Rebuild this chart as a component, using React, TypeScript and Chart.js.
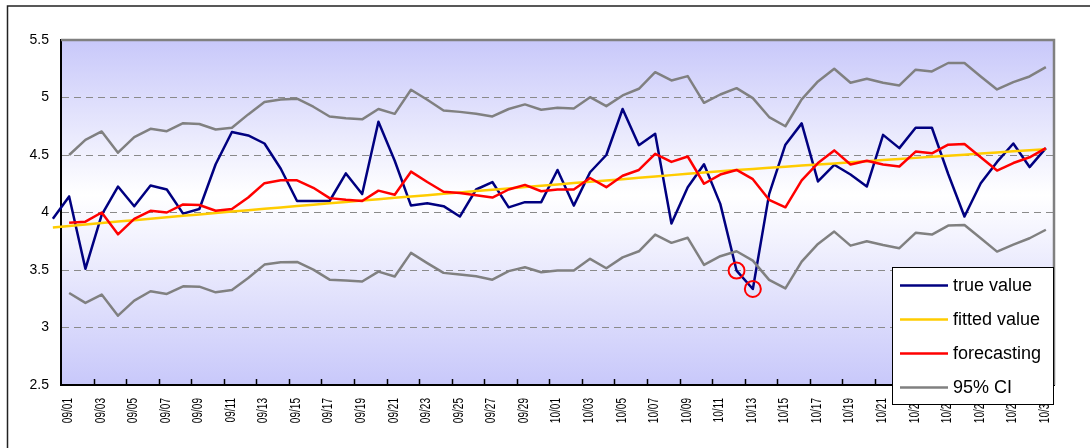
import React, { useEffect, useRef } from "react";
import { Chart, registerables } from "chart.js";

Chart.register(...registerables);

// Categories: one leading day (08/31) sits just outside the plot, as in the original
const categories = [
  "08/31",
  "09/01", "09/02", "09/03", "09/04", "09/05", "09/06", "09/07", "09/08", "09/09", "09/10",
  "09/11", "09/12", "09/13", "09/14", "09/15", "09/16", "09/17", "09/18", "09/19", "09/20",
  "09/21", "09/22", "09/23", "09/24", "09/25", "09/26", "09/27", "09/28", "09/29", "09/30",
  "10/01", "10/02", "10/03", "10/04", "10/05", "10/06", "10/07", "10/08", "10/09", "10/10",
  "10/11", "10/12", "10/13", "10/14", "10/15", "10/16", "10/17", "10/18", "10/19", "10/20",
  "10/21", "10/22", "10/23", "10/24", "10/25", "10/26", "10/27", "10/28", "10/29", "10/30",
  "10/31",
];

// Tick labels shown (every second day); the legend box hides the tops of the last few
const xTickLabels = [
  "09/01", "09/03", "09/05", "09/07", "09/09", "09/11", "09/13", "09/15", "09/17", "09/19",
  "09/21", "09/23", "09/25", "09/27", "09/29", "10/01", "10/03", "10/05", "10/07", "10/09",
  "10/11", "10/13", "10/15", "10/17", "10/19", "10/21", "10/23", "10/25", "10/27", "10/29", "10/31",
];

const trueValue = [
  3.945, 4.14, 3.51, 3.98, 4.226, 4.055, 4.235, 4.2, 3.99, 4.03, 4.42, 4.7, 4.67, 4.6, 4.38,
  4.1, 4.1, 4.1, 4.34, 4.16, 4.79, 4.45, 4.06, 4.08, 4.055, 3.965, 4.2, 4.265, 4.045, 4.09,
  4.09, 4.37, 4.06, 4.35, 4.5, 4.9, 4.585, 4.685, 3.905, 4.22, 4.42, 4.075, 3.495, 3.335,
  4.16, 4.59, 4.775, 4.27, 4.415, 4.33, 4.226, 4.675, 4.56, 4.737, 4.737, 4.335, 3.965,
  4.255, 4.44, 4.6, 4.395, 4.56,
];

const fittedValue = [
  3.87, 3.883, 3.896, 3.908, 3.921, 3.933, 3.946, 3.958, 3.971, 3.983, 3.995, 4.008, 4.02,
  4.032, 4.044, 4.056, 4.068, 4.08, 4.092, 4.104, 4.116, 4.128, 4.14, 4.151, 4.163, 4.174,
  4.186, 4.198, 4.209, 4.221, 4.232, 4.244, 4.256, 4.267, 4.279, 4.29, 4.302, 4.313, 4.325,
  4.336, 4.348, 4.359, 4.369, 4.379, 4.389, 4.398, 4.408, 4.418, 4.427, 4.437, 4.446, 4.456,
  4.465, 4.475, 4.484, 4.494, 4.503, 4.513, 4.522, 4.532, 4.541, 4.551,
];

const forecasting = [
  null, 3.91, 3.92, 4.0, 3.81, 3.945, 4.015, 4.0, 4.07, 4.065, 4.015, 4.03, 4.13, 4.255, 4.28,
  4.28, 4.215, 4.125, 4.11, 4.1, 4.19, 4.155, 4.355, 4.265, 4.18, 4.17, 4.15, 4.13, 4.2, 4.24,
  4.185, 4.2, 4.2, 4.3, 4.22, 4.32, 4.37, 4.51, 4.44, 4.487, 4.25, 4.33, 4.37, 4.29, 4.11,
  4.045, 4.28, 4.43, 4.54, 4.417, 4.45, 4.417, 4.4, 4.53, 4.515, 4.59, 4.595, 4.48, 4.365,
  4.43, 4.48, 4.56,
];

const ciUpper = [
  null, 4.5, 4.632, 4.705, 4.52, 4.655, 4.728, 4.707, 4.777, 4.77, 4.722, 4.737, 4.853, 4.96,
  4.983, 4.99, 4.92, 4.835, 4.82, 4.81, 4.9, 4.858, 5.067, 4.98, 4.887, 4.875, 4.858, 4.835,
  4.9, 4.94, 4.893, 4.91, 4.905, 5.003, 4.925, 5.018, 5.076, 5.22, 5.148, 5.186, 4.954, 5.026,
  5.081, 4.995, 4.83, 4.75, 4.983, 5.14, 5.25, 5.128, 5.163, 5.128, 5.105, 5.242, 5.227, 5.3,
  5.3, 5.183, 5.07, 5.134, 5.183, 5.264,
];

const ciLower = [
  null, 3.3, 3.214, 3.286, 3.103, 3.234, 3.315, 3.292, 3.358, 3.355, 3.306, 3.327, 3.43, 3.547,
  3.567, 3.57, 3.503, 3.416, 3.408, 3.4, 3.486, 3.443, 3.649, 3.56, 3.475, 3.46, 3.445, 3.416,
  3.49, 3.524, 3.48, 3.495, 3.495, 3.597, 3.515, 3.61, 3.663, 3.808, 3.736, 3.78, 3.544, 3.62,
  3.663, 3.582, 3.414, 3.34, 3.573, 3.727, 3.834, 3.712, 3.75, 3.718, 3.69, 3.823, 3.808,
  3.886, 3.892, 3.776, 3.66, 3.72, 3.776, 3.85,
];

// Circled outliers
const highlightDates = ["10/12", "10/13"];
const highlightValues = [3.495, 3.335];

const legendLabels = ["true value", "fitted value", "forecasting", "95% CI"];

const FONT = "'Liberation Sans', Arial, Helvetica, sans-serif";

export default function App() {
  const ref = useRef<HTMLCanvasElement | null>(null);

  useEffect(() => {
    const canvas = ref.current;
    if (!canvas) return;

    const backgroundPlugin = {
      id: "bgPlot",
      beforeDraw(chart: any) {
        const { ctx, chartArea: a, width, height } = chart;
        ctx.save();
        ctx.fillStyle = "#ffffff";
        ctx.fillRect(0, 0, width, height);
        ctx.strokeStyle = "#222222";
        ctx.lineWidth = 1.5;
        ctx.beginPath();
        ctx.moveTo(7.5, height);
        ctx.lineTo(7.5, 6);
        ctx.lineTo(width, 6);
        ctx.stroke();
        const g = ctx.createLinearGradient(0, a.top, 0, a.bottom);
        g.addColorStop(0, "rgb(200,200,250)");
        g.addColorStop(0.45, "#ffffff");
        g.addColorStop(1, "rgb(200,200,250)");
        ctx.fillStyle = g;
        ctx.fillRect(a.left, a.top, a.right - a.left, a.bottom - a.top);
        ctx.restore();
      },
      afterDatasetsDraw(chart: any) {
        const { ctx, chartArea: a } = chart;
        ctx.save();
        ctx.strokeStyle = "#808080";
        ctx.lineWidth = 2.5;
        ctx.beginPath();
        ctx.moveTo(a.left, a.top);
        ctx.lineTo(a.right, a.top);
        ctx.lineTo(a.right, a.bottom);
        ctx.stroke();
        ctx.restore();
      },
      afterDraw(chart: any) {
        const { ctx, chartArea: a } = chart;
        const xs = chart.scales.x;
        ctx.save();
        // inner tick marks every two categories
        ctx.strokeStyle = "#000000";
        ctx.lineWidth = 1.5;
        for (let k = 1; k <= 30; k++) {
          const px = Math.round(xs.getPixelForValue(2 * k + 0.5)) + 0.5;
          ctx.beginPath();
          ctx.moveTo(px, a.bottom);
          ctx.lineTo(px, a.bottom - 6);
          ctx.stroke();
        }
        // rotated, condensed tick labels
        ctx.fillStyle = "#000000";
        ctx.font = `15px ${FONT}`;
        ctx.textAlign = "right";
        ctx.textBaseline = "alphabetic";
        xTickLabels.forEach((lab, k) => {
          const px = xs.getPixelForValue(1 + 2 * k);
          ctx.save();
          ctx.translate(px + 2.9, a.bottom + 13);
          ctx.rotate(-Math.PI / 2);
          ctx.scale(0.67, 1);
          ctx.fillText(lab, 0, 0);
          ctx.restore();
        });
        // legend box (drawn over the last tick labels, as in the original)
        const bx = 892, by = 267, bw = 161, bh = 137;
        ctx.fillStyle = "#ffffff";
        ctx.fillRect(bx, by, bw, bh);
        ctx.strokeStyle = "#000000";
        ctx.lineWidth = 1;
        ctx.strokeRect(bx + 0.5, by + 0.5, bw, bh);
        ctx.font = `18px ${FONT}`;
        ctx.textAlign = "left";
        ctx.textBaseline = "middle";
        legendLabels.forEach((lab, i) => {
          const ds = chart.data.datasets.find((d: any) => d.label === lab);
          const y = by + 18.5 + i * 34;
          ctx.strokeStyle = ds ? ds.borderColor : "#000";
          ctx.lineWidth = 2.5;
          ctx.beginPath();
          ctx.moveTo(bx + 8, y);
          ctx.lineTo(bx + 56, y);
          ctx.stroke();
          ctx.fillStyle = "#000000";
          ctx.fillText(lab, bx + 61, y + 1);
        });
        ctx.restore();
      },
    };

    const lineBase = {
      type: "line",
      pointRadius: 0,
      borderWidth: 2.5,
      tension: 0,
      fill: false,
      borderJoinStyle: "round",
    };

    const chart = new Chart(canvas, {
      type: "line",
      data: {
        labels: categories,
        datasets: [
          {
            label: "outliers",
            data: highlightDates.map((d, i) => ({ x: d, y: highlightValues[i] })),
            showLine: false,
            pointRadius: 8,
            pointBorderWidth: 2,
            pointBorderColor: "#ff0000",
            pointBackgroundColor: "rgba(0,0,0,0)",
            borderColor: "#ff0000",
          },
          { ...lineBase, label: "95% CI", data: ciUpper, borderColor: "#808080" },
          { ...lineBase, label: "95% CI lower", data: ciLower, borderColor: "#808080" },
          { ...lineBase, label: "forecasting", data: forecasting, borderColor: "#ff0000" },
          { ...lineBase, label: "fitted value", data: fittedValue, borderColor: "#ffcc00", clip: false },
          { ...lineBase, label: "true value", data: trueValue, borderColor: "#000080", clip: false },
        ] as any,
      },
      options: {
        responsive: false,
        maintainAspectRatio: false,
        animation: false,
        devicePixelRatio: 1,
        events: [],
        layout: { padding: { left: 0, top: 40, right: 36, bottom: 0 } },
        plugins: { legend: { display: false }, tooltip: { enabled: false } },
        scales: {
          x: {
            type: "category",
            min: "09/01",
            offset: true,
            grid: { display: false, drawTicks: false },
            border: { display: true, color: "#000000", width: 2 },
            ticks: { display: false },
            afterFit(scale: any) {
              scale.height = 63;
            },
          },
          y: {
            type: "linear",
            min: 2.5,
            max: 5.5,
            ticks: {
              stepSize: 0.5,
              padding: 12,
              color: "#000000",
              font: { family: FONT, size: 14 },
              callback: (v: any) => String(Number(v)),
            },
            grid: {
              drawTicks: false,
              lineWidth: 1,
              color: (c: any) =>
                c.tick && (c.tick.value === 2.5 || c.tick.value === 5.5) ? "rgba(0,0,0,0)" : "#8a8a8a",
            },
            border: { display: true, color: "#000000", width: 2, dash: [7, 5] },
            afterFit(scale: any) {
              scale.width = 61;
            },
          },
        },
      } as any,
      plugins: [backgroundPlugin],
    } as any);

    return () => chart.destroy();
  }, []);

  return (
    <div style={{ position: "fixed", left: 0, top: 0, width: 1090, height: 448, background: "#fff" }}>
      <canvas ref={ref} width={1090} height={448} style={{ display: "block", width: 1090, height: 448 }} />
    </div>
  );
}
